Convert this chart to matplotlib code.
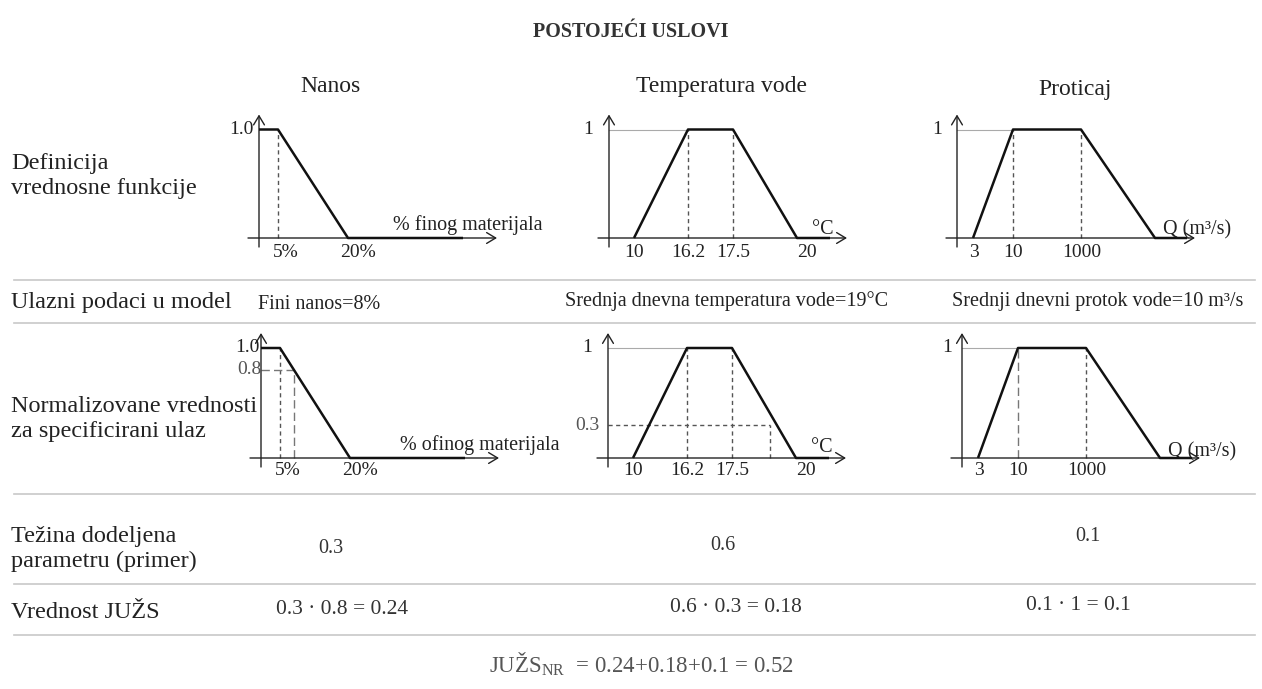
import numpy as np
import matplotlib
matplotlib.use("Agg")
import matplotlib.pyplot as plt

plt.rcParams['font.family'] = ['Liberation Serif', 'DejaVu Serif']
plt.rcParams['mathtext.fontset'] = 'custom'
plt.rcParams['mathtext.rm'] = 'Liberation Serif'

# ---------------- data ----------------
title = "POSTOJEĆI USLOVI"
params = ["Nanos", "Temperatura vode", "Proticaj"]
row_labels = [["Definicija", "vrednosne funkcije"],
              ["Ulazni podaci u model"],
              ["Normalizovane vrednosti", "za specificirani ulaz"],
              ["Težina dodeljena", "parametru (primer)"],
              ["Vrednost JUŽS"]]
input_texts = ["Fini nanos=8%", "Srednja dnevna temperatura vode=19°C",
               "Srednji dnevni protok vode=10 m³/s"]
units_top = ["% finog materijala", "°C", "Q (m³/s)"]
units_bottom = ["% ofinog materijala", "°C", "Q (m³/s)"]

nanos_x = [0, 5, 20]
nanos_mu = [1.0, 1.0, 0.0]
nanos_ticks = [5, 20]
nanos_ticklabels = ["5%", "20%"]

temp_x = [10, 16.2, 17.5, 20]
temp_mu = [0.0, 1.0, 1.0, 0.0]
temp_ticks = [10, 16.2, 17.5, 20]
temp_ticklabels = ["10", "16.2", "17.5", "20"]

flow_x = [3, 10, 1000, 5000]      # last breakpoint unlabelled in the source
flow_mu = [0.0, 1.0, 1.0, 0.0]
flow_ticks = [3, 10, 1000]
flow_ticklabels = ["3", "10", "1000"]

inputs = [8, 19, 10]
normalized = [0.8, 0.3, 1.0]
weights = [0.3, 0.6, 0.1]
ylabels_top = ["1.0", "1", "1"]

# ---------------- layout (pixels) ----------------
W, H = 1262, 689
fig = plt.figure(figsize=(W / 100, H / 100), dpi=100)
bg = fig.add_axes([0, 0, 1, 1])
bg.set_xlim(0, W)
bg.set_ylim(H, 0)
bg.axis('off')

TXT = '#222222'
GRAYTXT = '#555555'

# schematic x-axis slots (px offset from the y-axis) for each breakpoint
slots = [[0, 19, 89], [25, 79, 124, 188], [16, 56, 124, 198]]
tail_end = [204, 221, 230]
xs_all = [nanos_x, temp_x, flow_x]
mus_all = [nanos_mu, temp_mu, flow_mu]
ticks_all = [nanos_ticks, temp_ticks, flow_ticks]
ticklabels_all = [nanos_ticklabels, temp_ticklabels, flow_ticklabels]
tick_dx = [[8, 10], [0, 0, 0, 10], [1, 0, 1]]
unit_dx = [[134, 203, 206], [139, 203, 206]]
unit_dy = [[8, 4, 4], [8, 6, 2]]
ylab_dx_top = [-5, -16, -15]
ylab_dx_bot = [-1, -16, -10]

# panel origins: (x of y-axis, y of x-axis, y of membership 1)
origins = [[(259, 238, 129.5), (609, 238, 129.5), (957, 238, 129.5)],
           [(261, 458, 348), (608, 458, 348), (962, 458, 348)]]


def make_scale(bps, sl):
    bps = np.asarray(bps, float)
    sl = np.asarray(sl, float)

    def f(v, a, b):
        v = np.asarray(v, float)
        out = np.interp(v, a, b)
        s0 = (b[1] - b[0]) / (a[1] - a[0])
        s1 = (b[-1] - b[-2]) / (a[-1] - a[-2])
        out = np.where(v < a[0], b[0] + (v - a[0]) * s0, out)
        out = np.where(v > a[-1], b[-1] + (v - a[-1]) * s1, out)
        return out

    return (lambda v: f(v, bps, sl)), (lambda p: f(p, sl, bps))


XL, XR = -24, 252
CURVE = dict(color='#111111', lw=1.8, solid_capstyle='butt', zorder=4)
DASH = dict(color='#555555', lw=1.0, ls=(0, (3, 2.5)), zorder=2)
LDASH = dict(color='#777777', lw=1.0, ls=(0, (6, 3)), zorder=2)
LEVEL = dict(color='#aaaaaa', lw=0.8, zorder=1)
AX = dict(arrowstyle='->,head_length=0.5,head_width=0.3', lw=1.0,
          color='#222222', shrinkA=0, shrinkB=0, mutation_scale=13)


def panel(row, col):
    ox, oy, y1 = origins[row][col]
    hpx = oy - y1
    top_px, bot_px = y1 - 26, oy + 26
    ax = fig.add_axes([(ox + XL) / W, 1 - bot_px / H, (XR - XL) / W,
                       (bot_px - top_px) / H])
    ax.patch.set_alpha(0)
    for s in ax.spines.values():
        s.set_visible(False)
    ax.set_xticks([])
    ax.set_yticks([])
    fwd, inv = make_scale(xs_all[col], slots[col])
    ax.set_xscale('function', functions=(fwd, inv))
    ax.set_xlim(float(inv(XL)), float(inv(XR)))
    ax.set_ylim((oy - bot_px) / hpx, (oy - top_px) / hpx)
    ax.set_xticks([])
    ax.minorticks_off()

    x0 = float(inv(0))
    ax.annotate('', xy=(float(inv(238)), 0), xytext=(float(inv(-11)), 0),
                arrowprops=AX, annotation_clip=False)
    ax.annotate('', xy=(x0, (oy - (y1 - 15)) / hpx), xytext=(x0, -9 / hpx),
                arrowprops=AX, annotation_clip=False)

    xs = list(xs_all[col])
    mus = list(mus_all[col])
    tail = float(inv(tail_end[col]))
    ax.plot(xs + [tail], mus + [0.0], **CURVE)

    for v, lab, dx in zip(ticks_all[col], ticklabels_all[col], tick_dx[col]):
        xv = float(inv(fwd(v) + dx))
        ax.text(xv, -(19 if row == 0 else 17) / hpx, lab, ha='center',
                va='baseline', fontsize=14, color=TXT)

    units = units_top if row == 0 else units_bottom
    ax.text(float(inv(unit_dx[row][col])), unit_dy[row][col] / hpx, units[col],
            ha='left', va='baseline', fontsize=14.5, color=TXT)

    if col == 0:
        ax.plot([xs[1], xs[1]], [0, 1], **DASH)
    elif col == 1:
        for v in xs[1:3]:
            ax.plot([v, v], [0, 1], **DASH)
        ax.plot([x0, xs[1]], [1, 1], **LEVEL)
    else:
        ax.plot([xs[2], xs[2]], [0, 1], **DASH)
        ax.plot([x0, xs[1]], [1, 1], **LEVEL)
        if row == 0:
            ax.plot([xs[1], xs[1]], [0, 1], **DASH)

    if row == 0:
        ax.text(float(inv(ylab_dx_top[col])), 1, ylabels_top[col], ha='right',
                va='center', fontsize=14, color=TXT)
    else:
        ax.text(float(inv(ylab_dx_bot[col])), 1, ylabels_top[col], ha='right',
                va='center', fontsize=14, color=TXT)
        inp, nv = inputs[col], normalized[col]
        if col == 0:
            ax.plot([inp, inp], [0, nv], **LDASH)
            ax.plot([x0, inp], [nv, nv], **LDASH)
            ax.text(float(inv(0)), nv, f"{nv:g}", ha='right', va='center',
                    fontsize=14, color=GRAYTXT)
        elif col == 1:
            ax.plot([inp, inp], [0, nv], **DASH)
            ax.plot([x0, inp], [nv, nv], **DASH)
            ax.text(float(inv(-8)), nv, f"{nv:g}", ha='right', va='center',
                    fontsize=14, color=GRAYTXT)
        else:
            ax.plot([inp, inp], [0, nv], **LDASH)


for r in range(2):
    for c in range(3):
        panel(r, c)

# ---------------- overlay text ----------------
bg.text(631, 37, title, ha='center', va='baseline', fontsize=14.5,
        fontweight='bold', color='#333333')
for name, cx, by in zip(params, [330, 721, 1075], [92, 92, 95]):
    bg.text(cx, by, name, ha='center', va='baseline', fontsize=17, color=TXT)

row_baselines = [[169, 194], [308], [412, 437], [542, 567], [618]]
for lines, bls in zip(row_labels, row_baselines):
    for line, b in zip(lines, bls):
        bg.text(11, b, line, ha='left', va='baseline', fontsize=17.5, color=TXT)

bg.text(258, 309, input_texts[0], ha='left', va='baseline', fontsize=14.5, color=TXT)
bg.text(727, 306, input_texts[1], ha='center', va='baseline', fontsize=14.5, color=TXT)
bg.text(1098, 306, input_texts[2], ha='center', va='baseline', fontsize=14.5, color=TXT)

for w, cx, b in zip(weights, [331, 723, 1088], [553, 550, 541]):
    bg.text(cx, b, f"{w:g}", ha='center', va='baseline', fontsize=14.5, color='#333333')

products = [w * n for w, n in zip(weights, normalized)]
for w, n, p, cx, b in zip(weights, normalized, products, [342, 736, 1078],
                          [614, 612, 610]):
    bg.text(cx, b, f"{w:g} · {n:g} = {p:.2g}", ha='center', va='baseline',
            fontsize=15.5, color='#333333')

total = sum(products)
formula = ("JUŽS$_{\\mathrm{NR}}$  = " + "+".join(f"{p:.2g}" for p in products)
           + f" = {total:.2g}")
bg.text(641, 672, formula, ha='center', va='baseline', fontsize=16.5, color=GRAYTXT)

# separators
for y in [280, 323, 494, 584, 635]:
    bg.plot([14, 1255], [y, y], color='#c8c8c8', lw=1.2)

fig.savefig("out.png", dpi=100)
